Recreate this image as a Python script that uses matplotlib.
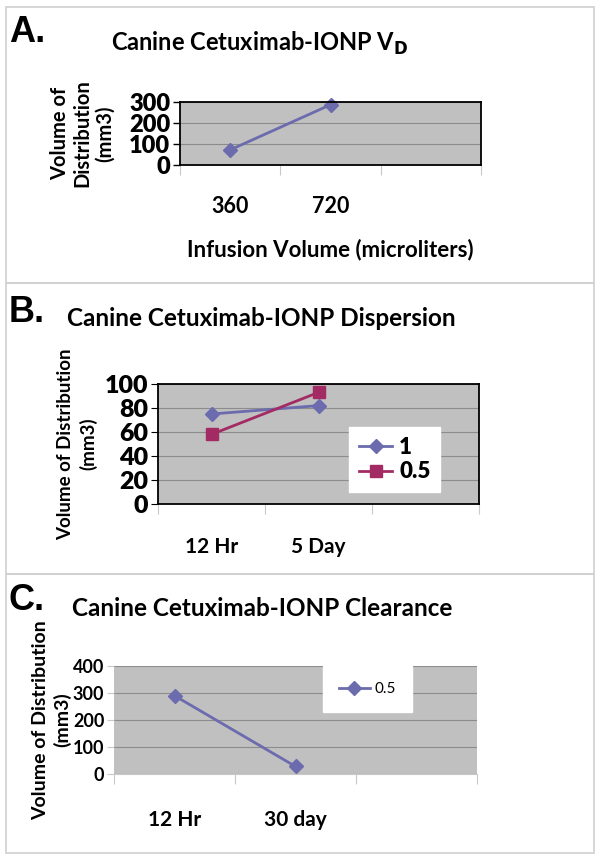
import numpy as np
import matplotlib
matplotlib.use("Agg")
import matplotlib.pyplot as plt
from matplotlib.patches import Rectangle

plt.rcParams['font.family'] = ['Lato', 'DejaVu Sans']
plt.rcParams['font.weight'] = 'bold'

# panel A
catA = ["360", "720", ""]
vdA = [72, 287]
# panel B
catB = ["12 Hr", "5 Day", ""]
dispB_1 = [75, 82]
dispB_05 = [58, 93]
labB = ["1", "0.5"]
# panel C
catC = ["12 Hr", "30 day", ""]
clearC = [290, 28]
labC = ["0.5"]

blu = '#6B6BAE'
plum = '#A32B63'
grigio = '#C0C0C0'
griglia = '#8C8C8C'

W, H = 602, 861
fig = plt.figure(figsize=(W/100, H/100), dpi=100)

def box(x0, y0, x1, y1):
    # px -> frazione figura
    return [x0/W, 1-y1/H, (x1-x0)/W, (y1-y0)/H]

# cornici dei pannelli
for (y0, y1) in [(7, 283), (283, 574), (574, 853)]:
    fig.add_artist(Rectangle((6/W, 1-y1/H), 588/W, (y1-y0)/H, transform=fig.transFigure,
                             fill=False, edgecolor='#D0D0D0', lw=1.2))

def categorie(ax, cats, fs, pad=22):
    n = len(cats)
    ax.set_xlim(0, n)
    ax.set_xticks(np.arange(n+1))
    ax.set_xticklabels([])
    ax.set_xticks(np.arange(n)+0.5, minor=True)
    ax.set_xticklabels(cats, minor=True, fontsize=fs, fontweight='bold')
    ax.tick_params(axis='x', which='major', length=7, direction='out', color='#C8C8C8')
    ax.tick_params(axis='x', which='minor', length=0, pad=pad)

# ---- A ----
axA = fig.add_axes(box(180, 102, 481, 165))
axA.set_facecolor(grigio)
xA = np.arange(len(vdA)) + 0.5
axA.plot(xA, vdA, color=blu, lw=2, marker='D', ms=7, clip_on=False)
axA.set_ylim(0, 300)
axA.set_yticks([0, 100, 200, 300])
axA.tick_params(axis='y', labelsize=17, length=5, width=1, pad=2)
for t in axA.get_yticklabels(): t.set_fontweight('heavy')
axA.grid(axis='y', color=griglia, lw=0.8)
axA.set_axisbelow(True)
categorie(axA, catA, 15.5)
for s in axA.spines.values(): s.set_linewidth(1.3)
axA.set_xlabel("Infusion Volume (microliters)", fontsize=16, fontweight='bold', labelpad=16)
axA.set_ylabel("Volume of\nDistribution\n(mm3)", fontsize=14.5, fontweight='bold', labelpad=10, linespacing=1.15)
fig.text(260/W, 1-43/H, r"Canine Cetuximab-IONP V$_\mathbf{D}$", fontsize=17, fontweight='bold', ha='center', va='center')
fig.text(9/W, 1-33/H, "A.", fontsize=26, fontweight='bold', family='Liberation Sans', va='center')

# ---- B ----
axB = fig.add_axes(box(158, 384, 479, 504))
axB.set_facecolor(grigio)
xB = np.arange(len(dispB_1)) + 0.5
axB.plot(xB, dispB_1, color=blu, lw=2, marker='D', ms=7, label=labB[0], clip_on=False)
axB.plot(xB, dispB_05, color=plum, lw=2, marker='s', ms=9, label=labB[1], clip_on=False)
axB.set_ylim(0, 100)
axB.set_yticks(np.arange(0, 101, 20))
axB.tick_params(axis='y', labelsize=18, length=5, pad=2)
for t in axB.get_yticklabels(): t.set_fontweight('heavy')
axB.grid(axis='y', color=griglia, lw=0.8)
axB.set_axisbelow(True)
categorie(axB, catB, 15, pad=24)
for s in axB.spines.values(): s.set_linewidth(1.3)
axB.set_ylabel("Volume of Distribution\n(mm3)", fontsize=13.5, fontweight='bold', labelpad=5, linespacing=1.35)
legB = axB.legend(loc='upper left', bbox_to_anchor=((349-158)/321, (504-427)/120), fontsize=16,
                  frameon=True, fancybox=False, edgecolor='white', framealpha=1,
                  handlelength=1.5, borderpad=0.45, labelspacing=0.15, handletextpad=0.3,
                  borderaxespad=0)
for t in legB.get_texts(): t.set_fontweight('heavy')
fig.text(261/W, 1-318/H, "Canine Cetuximab-IONP Dispersion", fontsize=17.5, fontweight='bold', ha='center', va='center')
fig.text(9/W, 1-313/H, "B.", fontsize=26, fontweight='bold', family='Liberation Sans', va='center')

# ---- C ----
axC = fig.add_axes(box(114, 666, 477, 774))
axC.set_facecolor(grigio)
xC = np.arange(len(clearC)) + 0.5
axC.plot(xC, clearC, color=blu, lw=2, marker='D', ms=7, label=labC[0], clip_on=False)
axC.set_ylim(0, 400)
axC.set_yticks(np.arange(0, 401, 100))
axC.tick_params(axis='y', labelsize=13, length=5, color='#C8C8C8', pad=2)
for t in axC.get_yticklabels(): t.set_fontweight('bold')
axC.grid(axis='y', color=griglia, lw=0.8)
axC.set_axisbelow(True)
categorie(axC, catC, 15, pad=26)
for k in ['top', 'right', 'left']: axC.spines[k].set_visible(False)
axC.spines['bottom'].set_color('#C8C8C8')
axC.set_ylabel("Volume of Distribution\n(mm3)", fontsize=14, fontweight='bold', labelpad=1, linespacing=1.3)
legC = axC.legend(loc='upper left', bbox_to_anchor=((323-114)/363, 1.0), fontsize=11,
                  frameon=True, fancybox=False, edgecolor='white', framealpha=1,
                  handlelength=2.0, borderpad=1.05, handletextpad=0.3, borderaxespad=0)
for t in legC.get_texts(): t.set_fontweight('normal')
fig.text(262/W, 1-608/H, "Canine Cetuximab-IONP Clearance", fontsize=17.5, fontweight='bold', ha='center', va='center')
fig.text(9/W, 1-601/H, "C.", fontsize=26, fontweight='bold', family='Liberation Sans', va='center')

fig.savefig("out.png", dpi=100)
